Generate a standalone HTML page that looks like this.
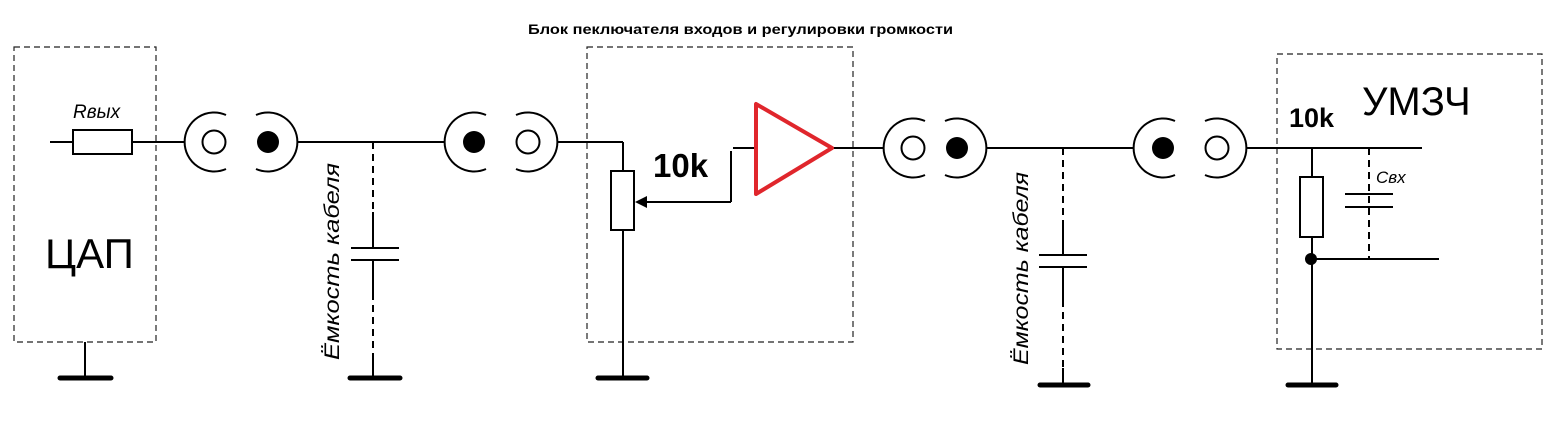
<!DOCTYPE html>
<html><head><meta charset="utf-8"><style>
html,body{margin:0;padding:0;background:#fff;}
svg{display:block;}
text{font-family:"Liberation Sans","DejaVu Sans",sans-serif;}
</style></head><body>
<svg width="1559" height="425" viewBox="0 0 1559 425" xmlns="http://www.w3.org/2000/svg">
<g fill="none" stroke="#222" stroke-width="1.2" stroke-dasharray="6,4">
<rect x="14" y="47" width="142" height="295"/>
<rect x="587" y="47" width="266" height="295"/>
<rect x="1277" y="54" width="265" height="295"/>
</g>
<text x="528" y="34" font-size="14" font-weight="bold" textLength="425" lengthAdjust="spacingAndGlyphs">Блок пеключателя входов и регулировки громкости</text>
<g stroke="#000" stroke-width="2" fill="none">
<line x1="50" y1="142" x2="73" y2="142"/>
<rect x="73" y="130" width="59" height="24" fill="#fff"/>
<line x1="132" y1="142" x2="185" y2="142"/>
<line x1="85" y1="342" x2="85" y2="378"/>
<path d="M226 115 A29.5 29.5 0 1 0 226 169"/>
<circle cx="214" cy="142" r="11.5"/>
<path d="M256 115 A29.5 29.5 0 1 1 256 169"/>
<line x1="297" y1="142" x2="445" y2="142"/>
<path d="M486 115 A29.5 29.5 0 1 0 486 169"/>
<path d="M516 115 A29.5 29.5 0 1 1 516 169"/>
<circle cx="528" cy="142" r="11.5"/>
<line x1="558" y1="142" x2="623" y2="142"/>
<line x1="373" y1="142" x2="373" y2="212" stroke-dasharray="7,5"/>
<line x1="373" y1="212" x2="373" y2="248"/>
<line x1="351" y1="248" x2="399" y2="248"/>
<line x1="351" y1="260" x2="399" y2="260"/>
<line x1="373" y1="260" x2="373" y2="293"/>
<line x1="373" y1="293" x2="373" y2="360" stroke-dasharray="7,5"/>
<line x1="373" y1="360" x2="373" y2="378"/>
<line x1="623" y1="142" x2="623" y2="171"/>
<rect x="611" y="171" width="23" height="59" fill="#fff"/>
<line x1="623" y1="230" x2="623" y2="378"/>
<line x1="645" y1="202" x2="731" y2="202"/>
<line x1="731" y1="202" x2="731" y2="151"/>
<line x1="733" y1="148" x2="756" y2="148"/>
<line x1="832" y1="148" x2="883" y2="148"/>
<path d="M925 121 A29.5 29.5 0 1 0 925 175"/>
<circle cx="913" cy="148" r="11.5"/>
<path d="M945 121 A29.5 29.5 0 1 1 945 175"/>
<line x1="987" y1="148" x2="1134" y2="148"/>
<line x1="1063" y1="148" x2="1063" y2="225" stroke-dasharray="7,5"/>
<line x1="1063" y1="225" x2="1063" y2="255"/>
<line x1="1039" y1="255" x2="1087" y2="255"/>
<line x1="1039" y1="267" x2="1087" y2="267"/>
<line x1="1063" y1="267" x2="1063" y2="300"/>
<line x1="1063" y1="300" x2="1063" y2="368" stroke-dasharray="7,5"/>
<line x1="1063" y1="368" x2="1063" y2="385"/>
<path d="M1175 121 A29.5 29.5 0 1 0 1175 175"/>
<path d="M1205 121 A29.5 29.5 0 1 1 1205 175"/>
<circle cx="1217" cy="148" r="11.5"/>
<line x1="1247" y1="148" x2="1422" y2="148"/>
<line x1="1312" y1="148" x2="1312" y2="177"/>
<rect x="1300" y="177" width="23" height="60" fill="#fff"/>
<line x1="1312" y1="237" x2="1312" y2="385"/>
<line x1="1312" y1="259" x2="1439" y2="259"/>
<line x1="1369" y1="148" x2="1369" y2="259" stroke-dasharray="7,5"/>
<line x1="1345" y1="194" x2="1393" y2="194"/>
<line x1="1345" y1="207" x2="1393" y2="207"/>
</g>
<g fill="#000">
<circle cx="268" cy="142" r="11"/>
<circle cx="474" cy="142" r="11"/>
<circle cx="957" cy="148" r="11"/>
<circle cx="1163" cy="148" r="11"/>
<circle cx="1311" cy="259" r="6"/>
<polygon points="635,202 647,196 647,208"/>
</g>
<g stroke="#000" stroke-width="5" stroke-linecap="round">
<line x1="60" y1="378" x2="111" y2="378"/>
<line x1="350" y1="378" x2="400" y2="378"/>
<line x1="598" y1="378" x2="647" y2="378"/>
<line x1="1040" y1="385" x2="1088" y2="385"/>
<line x1="1288" y1="385" x2="1336" y2="385"/>
</g>
<polygon points="756,104 756,194 832,148" fill="none" stroke="#e0262c" stroke-width="4" stroke-linejoin="round"/>
<text x="73" y="118" font-size="19" font-style="italic">Rвых</text>
<text x="45" y="268" font-size="42">ЦАП</text>
<text x="653" y="177" font-size="33" font-weight="bold">10k</text>
<text x="1289" y="127" font-size="27" font-weight="bold">10k</text>
<text x="1362" y="115" font-size="40">УМЗЧ</text>
<text x="1376" y="183" font-size="17" font-style="italic">Свх</text>
<text transform="translate(339,360) rotate(-90)" font-size="21" font-style="italic" textLength="197" lengthAdjust="spacingAndGlyphs">Ёмкость кабеля</text>
<text transform="translate(1028,365) rotate(-90)" font-size="21" font-style="italic" textLength="193" lengthAdjust="spacingAndGlyphs">Ёмкость кабеля</text>
</svg>
</body></html>
